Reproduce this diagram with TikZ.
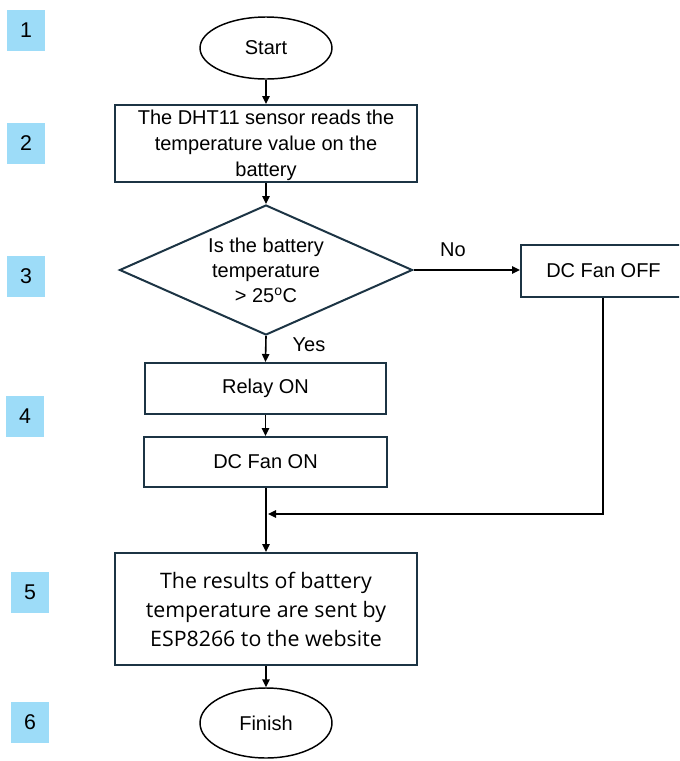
\documentclass[tikz,border=0pt]{standalone}
\usepackage{fontspec}
\setmainfont{Liberation Sans}
\newfontfamily\aptosfont{Open Sans}
\usetikzlibrary{shapes.geometric,arrows.meta}
\definecolor{boxline}{HTML}{1C3444}
\definecolor{badgefill}{HTML}{9DDCF8}
\begin{document}
\begin{tikzpicture}[x=0.75pt,y=-0.75pt,
  every node/.style={font=\fontsize{15}{19.5}\selectfont, inner sep=0pt},
  procbox/.style={draw=boxline, line width=1.5pt, rectangle, align=center},
  terminal/.style={draw=black, line width=1.1pt, ellipse, minimum width=99pt},
  decision/.style={draw=boxline, line width=1.5pt, diamond, minimum width=219.75pt, minimum height=97.5pt},
  badge/.style={fill=badgefill, minimum width=28.5pt, minimum height=30.75pt, font=\fontsize{16}{18}\selectfont},
  conn/.style={draw=black, line width=1.2pt, -{Triangle[length=6pt,width=5.5pt]}},
  lbl/.style={font=\fontsize{15}{18}\selectfont}]
\clip (0,0) rectangle (679,761);
% badges
\node[badge] (b1) at (26,30.5) {1};
\node[badge] (b2) at (26,143.5) {2};
\node[badge] (b3) at (26,276.5) {3};
\node[badge] (b4) at (25,416) {4};
\node[badge] (b5) at (30,592.5) {5};
\node[badge] (b6) at (30,722.5) {6};
% flow nodes
\node[terminal, minimum height=46.5pt] (start) at (266,48) {Start};
\node[procbox, minimum width=226.5pt, minimum height=57.75pt] (read) at (266,143.5) {};
\node[align=center] (readtxt) at (266,145) {The DHT11 sensor reads the\\temperature value on the\\battery};
\node[decision] (dec) at (266,270) {};
\node[align=center, font=\fontsize{15}{18.75}\selectfont] (dectxt) at (266,270) {Is the battery\\temperature\\> 25\textsuperscript{o}C};
\node[procbox, minimum width=180.75pt, minimum height=38.25pt] (relay) at (265.5,388.5) {Relay ON};
\node[procbox, minimum width=182.25pt, minimum height=37.5pt] (fanon) at (265.5,462) {DC Fan ON};
\node[procbox, minimum width=124.5pt, minimum height=39pt] (fanoff) at (604,271) {};
\node (fanofftxt) at (603.5,271) {DC Fan OFF};
\node[procbox, minimum width=226.5pt, minimum height=84pt, font=\aptosfont\fontsize{16}{21.75}\selectfont] (send) at (266,609) {The results of battery\\temperature are sent by\\ESP8266 to the website};
\node[terminal, minimum height=52.5pt] (finish) at (266,723) {Finish};
% labels
\node[lbl] (nolbl) at (453,250) {No};
\node[lbl] (yeslbl) at (309,345) {Yes};
% connectors
\coordinate (join) at (268,514);
\draw[conn] (start.south) -- (read.north);
\draw[conn] (read.south) -- (dec.north);
\draw[conn] (dec.east) -- (dec.east -| fanoff.west);
\draw[conn] (dec.south) -- (relay.north);
\draw[conn] (relay.south) -- (fanon.north);
\draw[conn] (fanon.south -| send.north) -- (send.north);
\draw[conn] (fanoff.south -| 603,0) |- (join);
\draw[conn] (send.south) -- (finish.north);
\end{tikzpicture}
\end{document}
